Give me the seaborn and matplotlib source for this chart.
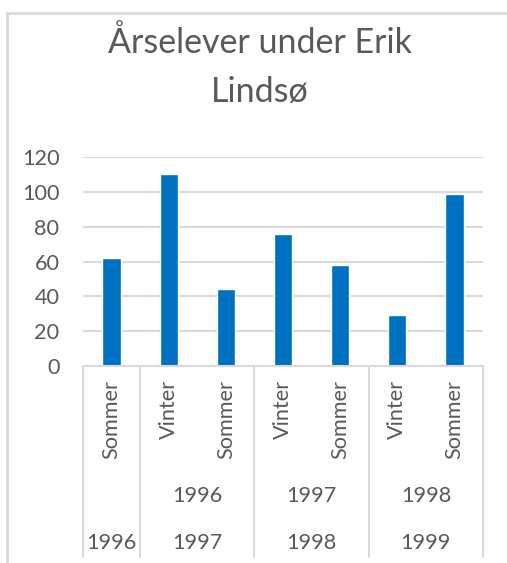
import pandas as pd
import matplotlib.pyplot as plt
import seaborn as sns
from matplotlib.transforms import blended_transform_factory
from matplotlib.lines import Line2D

# data
sesong = ['Sommer', 'Vinter', 'Sommer', 'Vinter', 'Sommer', 'Vinter', 'Sommer']
aar_fra = ['', '1996', '1996', '1997', '1997', '1998', '1998']
aar_til = ['1996', '1997', '1997', '1998', '1998', '1999', '1999']
elever = [62, 110, 44, 76, 58, 29, 99]

nivaa2 = ['1996', '1997', '1998']
nivaa3 = ['1996', '1997', '1998', '1999']

df = pd.DataFrame({
    'kategori': [f'{a}-{b} {s}' for a, b, s in zip(aar_fra, aar_til, sesong)],
    'sesong': sesong,
    'elever': elever,
})

sns.set_style('white')
plt.rcParams['font.family'] = ['Lato', 'DejaVu Sans']
grå = '#595959'
linje = '#d9d9d9'
fs = 15.6

fig = plt.figure(figsize=(5.07, 5.63), dpi=100)
ax = fig.add_axes([83 / 507, 1 - 366 / 563, 400 / 507, 209 / 563])

sns.barplot(data=df, x='kategori', y='elever', color='#0070C0', saturation=1,
            width=0.32, ax=ax)

ax.set_ylim(0, 120)
ax.set_xlim(-0.5, len(df) - 0.5)
ax.set_yticks(range(0, 121, 20))
ax.yaxis.grid(True, color=linje, linewidth=1.5)
ax.set_axisbelow(True)
for side in ['top', 'right', 'left']:
    ax.spines[side].set_visible(False)
ax.spines['bottom'].set_color(linje)
ax.spines['bottom'].set_linewidth(1.5)
ax.tick_params(axis='y', length=0, pad=17, labelsize=fs, labelcolor=grå)
ax.set_xticks([])
ax.set_xlabel('')
ax.set_ylabel('')

tr = blended_transform_factory(ax.transData, ax.transAxes)
ax_h = 209

# season labels, rotated
for i, s in enumerate(sesong):
    ax.text(i, -14 / ax_h, s, transform=tr, rotation=90, ha='center', va='top',
            fontsize=fs, color=grå)

# year level 2 (spans two bars, skipping the first)
for k, a in enumerate(nivaa2):
    ax.text(1.5 + 2 * k, -(496 - 366) / ax_h, a, transform=tr, ha='center',
            va='center', fontsize=fs, color=grå)

# year level 3
ax.text(0, -(543 - 366) / ax_h, nivaa3[0], transform=tr, ha='center',
        va='center', fontsize=fs, color=grå)
for k, a in enumerate(nivaa3[1:]):
    ax.text(1.5 + 2 * k, -(543 - 366) / ax_h, a, transform=tr, ha='center',
            va='center', fontsize=fs, color=grå)

# group separators
for x in [-0.5, 0.5, 2.5, 4.5, 6.5]:
    ax.plot([x, x], [0, -(557 - 366) / ax_h], transform=tr, color=linje,
            linewidth=1.5, clip_on=False)

# chart border
fig.add_artist(Line2D([7 / 507, 7 / 507], [0, 1 - 13 / 563], color=linje, linewidth=2))
fig.add_artist(Line2D([7 / 507, 1], [1 - 13 / 563, 1 - 13 / 563], color=linje, linewidth=2))

fig.text(260 / 507, 1 - 67 / 563, 'Årselever under Erik\nLindsø', ha='center',
         va='center', fontsize=24.5, color=grå, linespacing=1.62)

fig.savefig('out.png', dpi=100)
